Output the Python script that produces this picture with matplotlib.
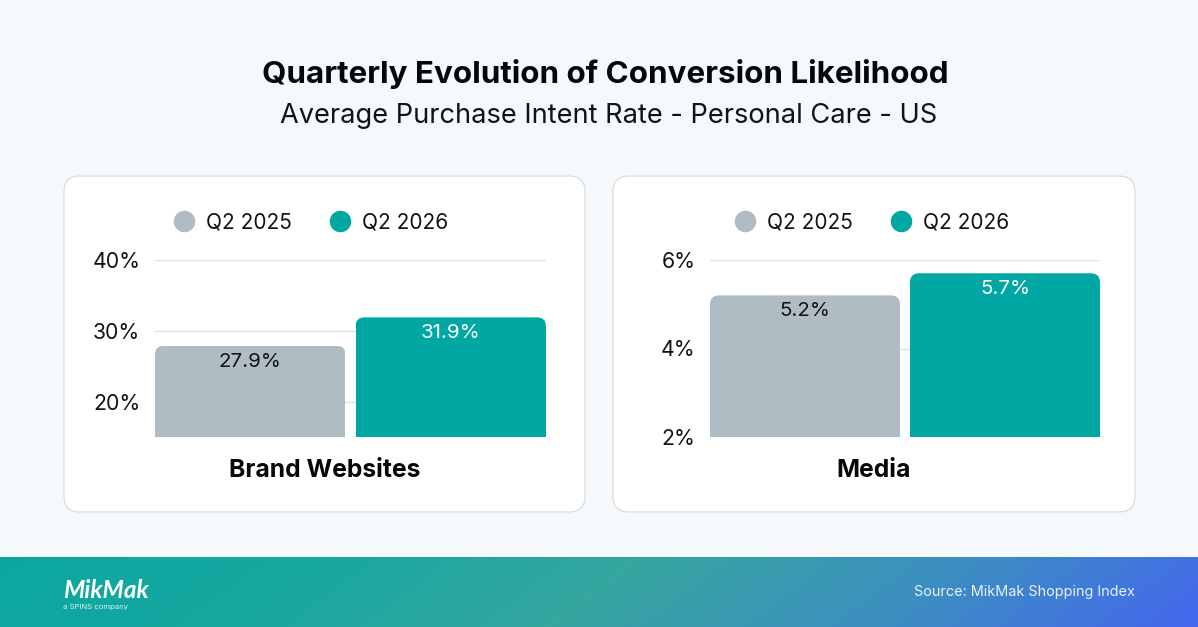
import numpy as np
import matplotlib
matplotlib.use("Agg")
import matplotlib.pyplot as plt
from matplotlib.patches import FancyBboxPatch
from matplotlib.lines import Line2D
from matplotlib.colors import LinearSegmentedColormap
from matplotlib.transforms import Affine2D, IdentityTransform

plt.rcParams['font.family'] = ['Inter', 'DejaVu Sans']

W, H = 1198, 627
series_names = ["Q2 2025", "Q2 2026"]
panel_titles = ["Brand Websites", "Media"]
brand_values = [27.9, 31.9]
media_values = [5.2, 5.7]
brand_ticks = [20, 30, 40]
media_ticks = [2, 4, 6]
brand_ylim = (15, 40)
media_ylim = (2, 6)

GREY = "#B0BCC4"
TEAL = "#00A7A3"
INK = "#101318"
BG = "#F5F9FC"

fig = plt.figure(figsize=(W / 100, H / 100), dpi=100, facecolor=BG)
# pixel transform with y measured from the top
px = Affine2D().scale(1, -1).translate(0, H)


def axes_rect(x0, y0, x1, y1):
    return [x0 / W, 1 - y1 / H, (x1 - x0) / W, (y1 - y0) / H]


# footer gradient
foot = fig.add_axes(axes_rect(0, 557, W, H), zorder=1)
cmap = LinearSegmentedColormap.from_list(
    "foot", ["#0AA7A0", "#17A8A0", "#36A6A0", "#3C8FC0", "#4567EE"])
gx, gy = np.meshgrid(np.linspace(0, 1, 600), np.linspace(0, 1, 40))
foot.imshow(0.93 * gx + 0.07 * gy, cmap=cmap, aspect="auto", vmin=0, vmax=1, extent=(0, 1, 0, 1))
foot.axis("off")

# titles
fig.text(605.5 / W, 1 - 74 / H, "Quarterly Evolution of Conversion Likelihood",
         ha="center", va="center", fontsize=22.6, fontweight="bold", color="#05070A")
fig.text(609 / W, 1 - 116 / H, "Average Purchase Intent Rate - Personal Care - US",
         ha="center", va="center", fontsize=19.6, color=INK)

# cards
cards = [(64, 585), (613, 1135)]
for x0, x1 in cards:
    r = 16
    card = FancyBboxPatch((x0 + r, 176 + r), x1 - x0 - 2 * r, 336 - 2 * r,
                          boxstyle=f"round,pad={r},rounding_size={r}",
                          transform=px, fc="white", ec="#D6DBDF", lw=0.8, zorder=0.5)
    fig.add_artist(card)


def panel(rect, values, ticks, ylim, title, card, legend_xy):
    ax = fig.add_axes(axes_rect(*rect), facecolor="none", zorder=3)
    ax.set_xlim(-0.975, 0.975)
    ax.set_ylim(*ylim)
    for s in ax.spines.values():
        s.set_visible(False)
    ax.set_yticks(ticks, [f"{t}%" for t in ticks])
    # the panel name sits under the middle of the card, not of the plot area
    card_mid = (sum(card) / 2, 0)
    tick_x = ax.transData.inverted().transform(card_mid)[0]
    ax.set_xticks([tick_x], [title])
    ax.tick_params(axis="y", length=0, pad=10.5, labelsize=15.3, labelcolor=INK)
    ax.tick_params(axis="x", length=0, pad=16, labelsize=17.8, labelcolor="#05070A")
    for lab in ax.get_xticklabels():
        lab.set_fontweight("bold")
    ax.set_axisbelow(True)
    ax.grid(axis="y", color="#DFE3E6", lw=1.0)
    ax.grid(axis="x", visible=False)
    bars = ax.bar([-0.5, 0.5], np.array(values) - ylim[0], width=0.95, bottom=ylim[0],
                  color=[GREY, TEAL], zorder=2)
    for i, (bar, v) in enumerate(zip(bars, values)):
        (x0, y0), (x1, y1) = ax.transData.transform(
            [(bar.get_x(), ylim[0]), (bar.get_x() + bar.get_width(), v)])
        r = 9
        clip = FancyBboxPatch((x0 + r, y0 - 40), x1 - x0 - 2 * r, y1 - y0 + 40 - r,
                              boxstyle=f"round,pad={r},rounding_size={r}",
                              transform=IdentityTransform())
        bar.set_clip_path(clip.get_path(), IdentityTransform())
        ax.annotate(f"{v}%", (bar.get_x() + bar.get_width() / 2, v),
                    xytext=(0, -16), textcoords="offset pixels",
                    ha="center", va="center", fontsize=14.8,
                    color=INK if i == 0 else "white", zorder=4)
    handles = [Line2D([], [], ls="none", marker="o", ms=15.5, color=c, mew=0)
               for c in (GREY, TEAL)]
    lx, ly = legend_xy
    ax.legend(handles, series_names, ncols=2, loc="center",
              bbox_to_anchor=(lx, H - ly), bbox_transform=IdentityTransform(),
              frameon=False, fontsize=15, labelcolor=INK,
              handlelength=1.0, handletextpad=0.55, columnspacing=1.83,
              borderpad=0, borderaxespad=0)
    return ax


ax1 = panel((155, 260, 546, 437), brand_values, brand_ticks, brand_ylim,
            panel_titles[0], cards[0], (311, 222))
ax2 = panel((710, 260, 1100, 437), media_values, media_ticks, media_ylim,
            panel_titles[1], cards[1], (872, 222))

# footer text
fig.text(63 / W, 1 - 591 / H, "MikMak", ha="left", va="center", fontsize=17.5,
         fontweight="bold", fontstyle="italic", color="white", zorder=5,
         family=["Lato", "DejaVu Sans"])
fig.text(63 / W, 1 - 607 / H, "a SPINS company", ha="left", va="center", fontsize=5.6,
         color="#DDF3F1", zorder=5)
fig.text(1135 / W, 1 - 592 / H, "Source: MikMak Shopping Index", ha="right", va="center",
         fontsize=10.4, color="#E6F1FB", zorder=5)

fig.savefig("out.png", dpi=100, facecolor=BG)
